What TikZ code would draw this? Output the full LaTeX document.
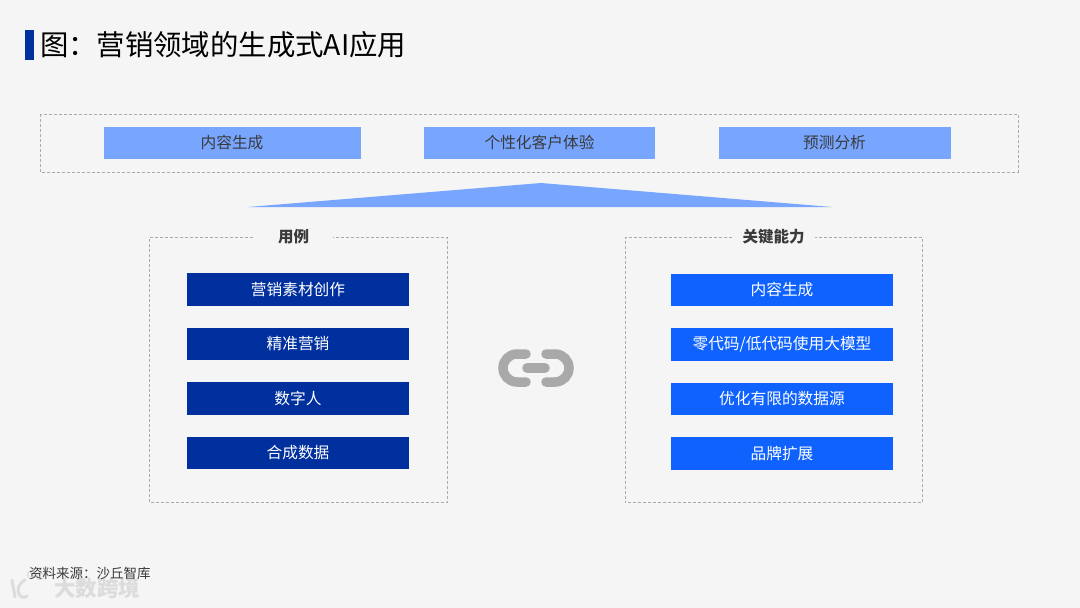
\documentclass[tikz,border=0pt]{standalone}
\usepackage{fontspec}
\setmainfont{Noto Sans CJK SC}
\definecolor{bgc}{HTML}{F5F5F5}
\definecolor{navy}{HTML}{00309E}
\definecolor{bright}{HTML}{0F62FE}
\definecolor{pale}{HTML}{78A6FF}
\definecolor{linkc}{HTML}{A9A9A9}
\definecolor{dashc}{HTML}{ABABAB}
\definecolor{txtc}{HTML}{3A3A3A}
\definecolor{wmc}{HTML}{DCDCDC}
\tikzset{
 x=1pt,y=-1pt,
 base/.style={anchor=center,inner sep=0pt,outer sep=0pt,font=\fontsize{15.7}{18}\selectfont},
 topbox/.style={base,fill=pale,text=txtc,minimum height=32.5},
 navybox/.style={base,fill=navy,text=white,minimum width=222,minimum height=32.5},
 brightbox/.style={base,fill=bright,text=white,minimum width=222,minimum height=32.5},
 frame/.style={draw=dashc,line width=1,dash pattern=on 3 off 2},
 head/.style={base,text=txtc,font=\fontsize{15.5}{17}\selectfont\bfseries},
 linkp/.style={draw=linkc,line width=9.5,line cap=round},
 wmline/.style={draw=wmc,line cap=round},
}
\begin{document}
\begin{tikzpicture}
\useasboundingbox[fill=bgc] (0,0) rectangle (1080,608);
% title
\fill[navy] (25,30) rectangle (34,60);
\node[base,anchor=west,text=black,font=\fontsize{28.4}{32}\selectfont] (title) at (40,45) {图：营销领域的生成式AI应用};
% top frame
\draw[frame] (40,114) rectangle (1018,172);
\node[topbox,minimum width=257] (t1) at (232,143) {内容生成};
\node[topbox,minimum width=231] (t2) at (539.5,143) {个性化客户体验};
\node[topbox,minimum width=232] (t3) at (834.5,143) {预测分析};
% wedge
\fill[pale] (248,207) -- (541,183) -- (832,207) -- cycle;
% left frame
\draw[frame] (253,237.5) -- (149.5,237.5) -- (149.5,502.5) -- (447.5,502.5) -- (447.5,237.5) -- (333,237.5);
\node[head] (lh) at (293.5,237) {用例};
\node[navybox] (l1) at (298,289.5) {营销素材创作};
\node[navybox] (l2) at (298,344) {精准营销};
\node[navybox] (l3) at (298,398.5) {数字人};
\node[navybox] (l4) at (298,453) {合成数据};
% right frame
\draw[frame] (732,237.5) -- (625,237.5) -- (625,502.5) -- (922.5,502.5) -- (922.5,237.5) -- (815,237.5);
\node[head] (rh) at (773.5,237) {关键能力};
\node[brightbox] (r1) at (782,290) {内容生成};
\node[brightbox] (r2) at (782,344.5) {零代码/低代码使用大模型};
\node[brightbox] (r3) at (782,399) {优化有限的数据源};
\node[brightbox] (r4) at (782,453.5) {品牌扩展};
% link icon
\draw[linkp] (526,354) -- (517,354) .. controls (509,354) and (503,360.5) .. (503,368) .. controls (503,375.5) and (509,382) .. (517,382) -- (526,382);
\draw[linkp] (546,354) -- (555,354) .. controls (563,354) and (569,360.5) .. (569,368) .. controls (569,375.5) and (563,382) .. (555,382) -- (546,382);
\draw[linkp] (527,368) -- (545,368);
% watermark
\node[base,anchor=west,text=wmc,font=\fontsize{21.5}{24}\selectfont\bfseries] (wm) at (54,588) {大数跨境};
\draw[wmline,line width=3] (12,580) -- (15,597);
\draw[wmline,line width=3] (25,580) .. controls (18,584) and (17,590) .. (19,594) .. controls (21,598) and (25,598) .. (27,596);
\draw[wmline,line width=1.3] (31,575) circle[radius=3.5] (40,576) circle[radius=3.5];
% source
\node[base,anchor=west,text=txtc,font=\fontsize{13.5}{15}\selectfont] (src) at (29,573) {资料来源：沙丘智库};
\end{tikzpicture}
\end{document}
